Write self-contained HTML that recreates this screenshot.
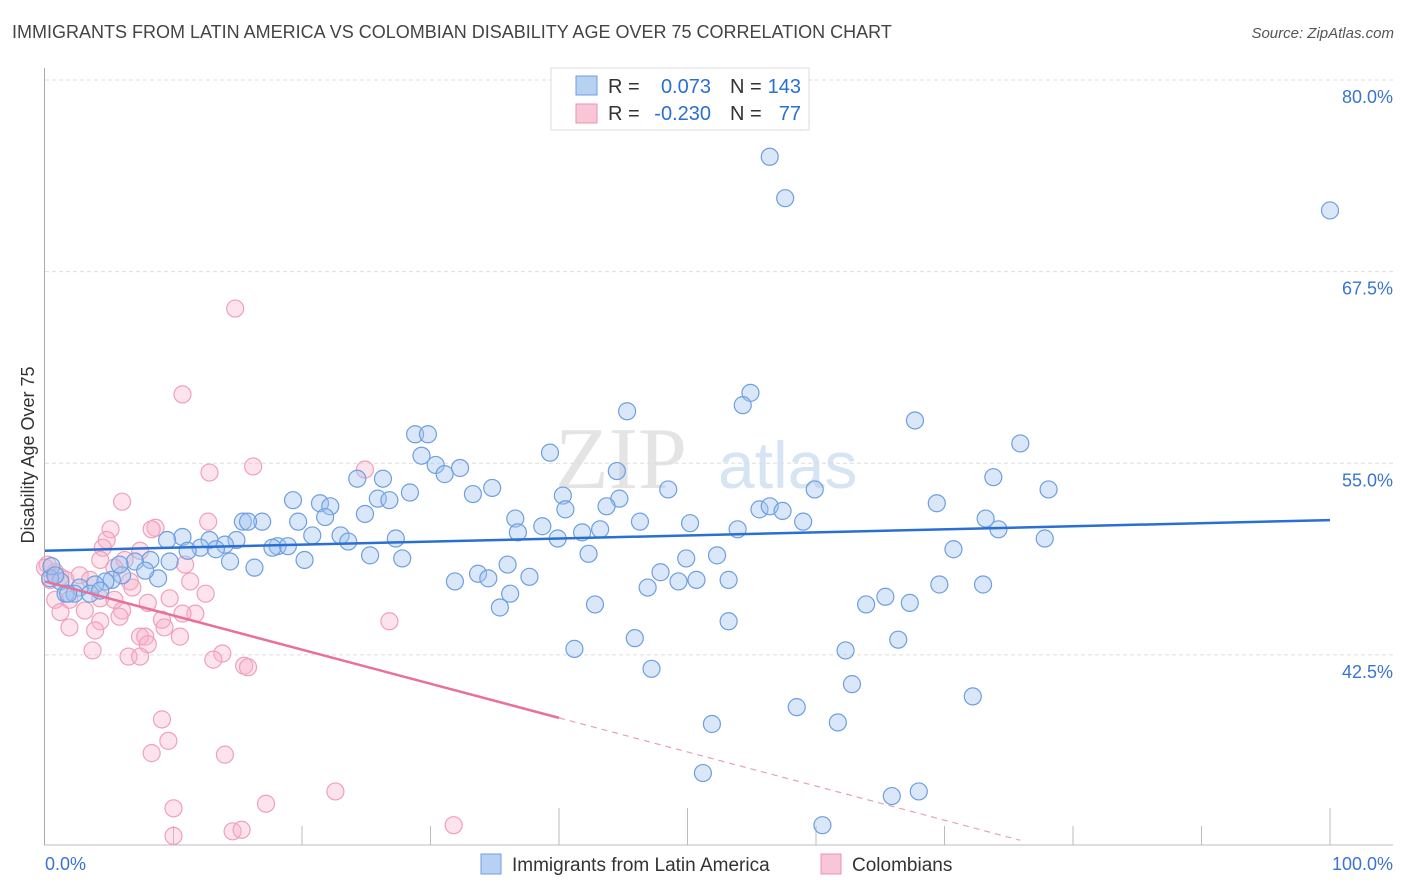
<!DOCTYPE html>
<html><head><meta charset="utf-8">
<style>
body{margin:0;background:#fff;font-family:"Liberation Sans",sans-serif;}
#wrap{position:relative;width:1406px;height:892px;overflow:hidden;}
.title{position:absolute;left:12px;top:22px;font-size:18px;color:#444;}
.source{position:absolute;right:12px;top:25px;font-size:15px;color:#555;font-style:italic;}
</style></head><body>
<div id="wrap">
<div class="title">IMMIGRANTS FROM LATIN AMERICA VS COLOMBIAN DISABILITY AGE OVER 75 CORRELATION CHART</div>
<div class="source">Source: ZipAtlas.com</div>
<svg id="svg" width="1406" height="892" style="position:absolute;left:0;top:0"></svg>
</div>
<script>
const yTicks=[80,67.5,55,42.5];
const yTickLabels=["80.0%","67.5%","55.0%","42.5%"];
const xTicks=[0,10,20,30,40,50,60,70,80,90,100];
const blueX=[58.8,56.4,57.6,100,54.9,54.3,45.3,67.7,28.8,29.8,75.9,39.3,29.3,30.4,32.3,44.5,31.1,24.3,26.3,73.8,48.5,59.9,78.1,34.8,33.3,40.3,44.7,25.9,26.8,28.4,19.3,21.4,22.2,69.4,40.5,43.7,55.6,56.4,57.4,36.6,21.8,19.7,24.9,46.3,50.2,59.0,15.4,16.9,15.8,73.2,38.7,74.2,36.8,41.8,43.2,53.9,27.3,23.0,20.8,23.6,10.7,9.5,12.8,14.9,14.0,77.8,12.1,11.1,13.3,18.1,18.9,17.7,70.7,52.3,49.9,42.3,39.9,25.3,27.8,8.2,20.2,7.0,9.7,14.4,16.3,36.0,47.9,33.7,34.5,31.9,37.7,49.3,50.7,53.2,46.9,69.6,73.0,8.8,6.0,5.2,4.7,3.9,2.7,1.2,0.4,1.6,2.3,3.5,4.3,65.4,67.3,63.9,36.2,35.4,42.8,53.2,45.9,66.4,62.3,41.2,47.2,62.8,72.2,58.5,51.9,61.7,51.2,65.9,68.0,60.5,0.5,0.8,1.8,5.8,7.8];
const blueY=[78.4,76.1,73.4,72.6,60.7,59.9,59.5,58.9,58.0,58.0,57.4,56.8,56.6,56.0,55.8,55.6,55.4,55.1,55.1,55.2,54.4,54.4,54.4,54.5,54.1,54.0,53.8,53.8,53.7,54.2,53.7,53.5,53.3,53.5,53.1,53.3,53.1,53.3,53.0,52.5,52.6,52.3,52.8,52.3,52.2,52.3,52.3,52.3,52.3,52.5,52.0,51.8,51.6,51.6,51.8,51.8,51.2,51.4,51.4,51.0,51.3,51.1,51.1,51.1,50.8,51.2,50.6,50.4,50.5,50.7,50.7,50.6,50.5,50.1,49.9,50.2,51.2,50.1,49.9,49.8,49.8,49.7,49.7,49.7,49.3,49.5,49.0,48.9,48.6,48.4,48.7,48.4,48.5,48.5,48.0,48.2,48.2,48.6,48.8,48.5,48.4,48.2,48.0,48.4,48.6,47.6,47.6,47.6,47.8,47.4,47.0,46.9,47.6,46.7,46.9,45.8,44.7,44.6,43.9,44.0,42.7,41.7,40.9,40.2,39.1,39.2,35.9,34.4,34.7,32.5,49.4,48.8,47.6,49.5,49.1];
const pinkX=[14.8,10.7,12.8,16.2,24.9,6.0,5.1,4.8,8.6,8.3,12.7,7.4,6.2,4.5,4.3,10.9,5.4,2.7,0.8,1.2,0.2,0.4,1.6,3.5,6.6,11.3,6.8,12.5,1.9,4.3,5.4,0.8,8.0,9.7,11.7,10.7,6.0,3.1,1.2,5.8,9.1,4.3,1.9,3.9,9.3,7.4,7.8,10.5,8.0,26.8,3.7,6.5,7.4,13.8,13.1,15.5,15.8,9.1,9.6,8.3,14.0,10.0,17.2,22.6,10.0,14.6,15.3,31.8,0];
const pinkY=[66.2,60.6,55.5,55.9,55.7,53.6,51.8,51.1,51.9,51.8,52.3,50.4,49.8,50.6,49.8,49.5,49.3,48.8,49.0,48.7,49.5,48.5,48.5,48.5,48.4,48.4,48.0,47.6,47.2,47.3,47.2,47.2,47.0,47.3,46.3,46.3,46.5,46.5,46.4,46.1,45.9,45.8,45.4,45.2,45.4,44.8,44.8,44.8,44.3,45.8,43.9,43.5,43.5,43.7,43.3,42.9,42.8,39.4,38.0,37.2,37.1,33.6,33.9,34.7,31.8,32.1,32.2,32.5,49.3];
const blueTrend=[50.4,0.02];   // intercept, slope
const pinkTrend=[48.4,-0.2225];
const pinkSolidEnd=40, pinkDashEnd=75.9;

const svg=document.getElementById('svg');const NS='http://www.w3.org/2000/svg';
const X=v=>45+v*12.85, Y=v=>97+(80-v)*15.33;
function mk(t,a,p){const e=document.createElementNS(NS,t);for(const k in a)e.setAttribute(k,a[k]);(p||svg).appendChild(e);return e;}
// watermark
const wm=mk('text',{x:555,y:488,'font-size':88,fill:'#e4e4e4','font-family':'Liberation Serif, serif'});wm.textContent='ZIP';


const wm2=mk('text',{x:718,y:488,'font-size':66,fill:'#d6e4f4','font-family':'Liberation Sans, sans-serif'});wm2.textContent='atlas';


// grid
yTicks.forEach((t,i)=>{
 const g=mk('line',{x1:45,x2:1393,y1:Y(t)-17,y2:Y(t)-17,stroke:'#ddd','stroke-dasharray':'4,3'});
 
 
 const l=mk('text',{x:1393,y:Y(t)+6,'text-anchor':'end','font-size':18,fill:'#3a74d0'});l.textContent=yTickLabels[i];
 
 
});
const ax=mk('line',{x1:44.5,x2:44.5,y1:68,y2:845,stroke:'#aaa'});


const bx=mk('line',{x1:44,x2:1393,y1:845,y2:845,stroke:'#bbb'});


xTicks.forEach(t=>{if(t===0)return;
 const k=mk('line',{x1:X(t),x2:X(t),y1:(t===40||t===50||t===100)?808:826,y2:845,stroke:'#bbb'});
 
 });
const xl0=mk('text',{x:45,y:870,'font-size':18,fill:'#3a74d0'});xl0.textContent='0.0%';


const xl1=mk('text',{x:1393,y:870,'text-anchor':'end','font-size':18,fill:'#3a74d0'});xl1.textContent='100.0%';


const yt=mk('text',{x:34,y:455,'text-anchor':'middle','font-size':18,fill:'#333',transform:'rotate(-90 34 455)'});yt.textContent='Disability Age Over 75';


// points
pinkX.forEach((x,i)=>{const c=mk('circle',{cx:X(x),cy:Y(pinkY[i]),r:8.5,fill:'rgba(248,175,200,0.35)',stroke:'#f0a0bc','stroke-width':1.2});
 
 });
blueX.forEach((x,i)=>{const c=mk('circle',{cx:X(x),cy:Y(blueY[i]),r:8.5,fill:'rgba(160,195,240,0.4)',stroke:'#6e9fe0','stroke-width':1.2});
 
 });
// trends
const bt=mk('line',{x1:X(0),y1:Y(blueTrend[0]),x2:X(100),y2:Y(blueTrend[0]+blueTrend[1]*100),stroke:'#2a6fd4','stroke-width':2.5});


const pt=mk('line',{x1:X(0),y1:Y(pinkTrend[0]),x2:X(pinkSolidEnd),y2:Y(pinkTrend[0]+pinkTrend[1]*pinkSolidEnd),stroke:'#e8709a','stroke-width':2.5});


const pd=mk('line',{x1:X(pinkSolidEnd),y1:Y(pinkTrend[0]+pinkTrend[1]*pinkSolidEnd),x2:X(pinkDashEnd),y2:Y(pinkTrend[0]+pinkTrend[1]*pinkDashEnd),stroke:'#e8a0b8','stroke-width':1.2,'stroke-dasharray':'6,5'});


// legend box
const lg=mk('g',{});


mk('rect',{x:551,y:68,width:258,height:62,fill:'#fff',stroke:'#ddd'},lg);
mk('rect',{x:576,y:76,width:21,height:19,fill:'#b7d1f3',stroke:'#6e9fe0'},lg);
mk('rect',{x:576,y:104,width:21,height:19,fill:'#f9c6d6',stroke:'#eb94b2'},lg);
function tx(x,y,s,c,a){const t=mk('text',{x:x,y:y,'font-size':20,fill:c,'text-anchor':a||'start'},lg);t.textContent=s;return t;}
tx(608,93,'R =','#333');tx(711,93,'0.073','#2a6fd4','end');tx(730,93,'N =','#333');tx(801,93,'143','#2a6fd4','end');
tx(608,120,'R =','#333');tx(711,120,'-0.230','#2a6fd4','end');tx(730,120,'N =','#333');tx(801,120,'77','#2a6fd4','end');
// bottom legend
const bl=mk('g',{});


mk('rect',{x:481,y:854,width:20,height:20,fill:'#b7d1f3',stroke:'#6e9fe0'},bl);
const t1=mk('text',{x:512,y:871,'font-size':19,fill:'#333'},bl);t1.textContent='Immigrants from Latin America';
mk('rect',{x:821,y:854,width:20,height:20,fill:'#f9c6d6',stroke:'#eb94b2'},bl);
const t2=mk('text',{x:852,y:871,'font-size':19,fill:'#333'},bl);t2.textContent='Colombians';
</script>
</body></html>
